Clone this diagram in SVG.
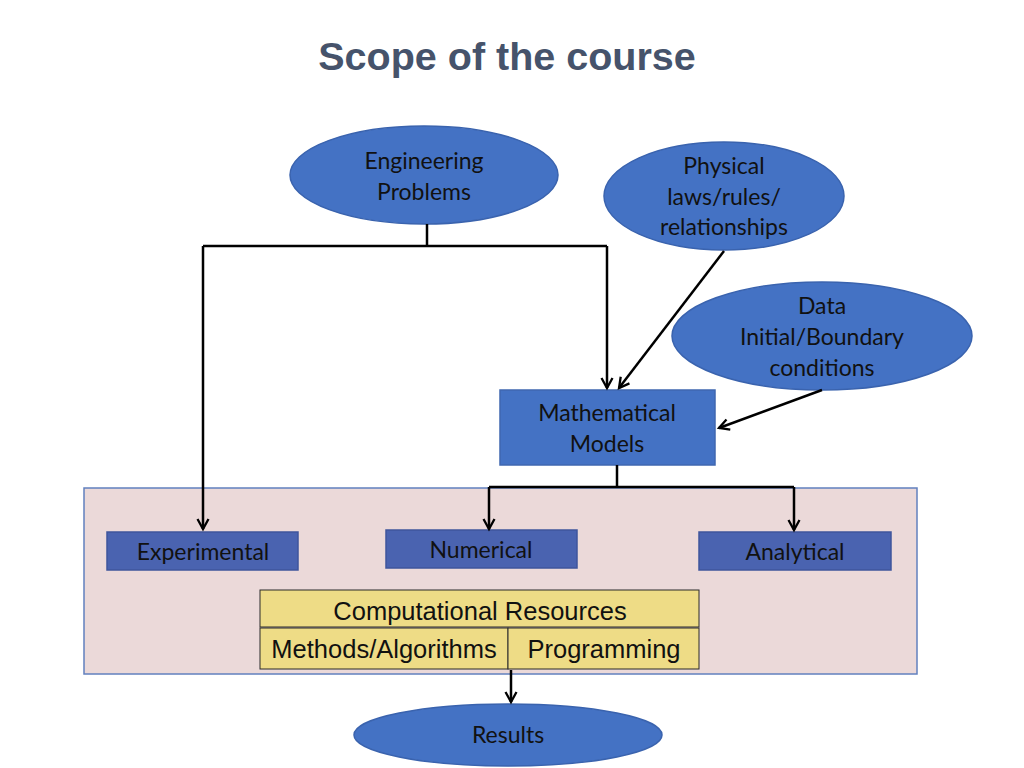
<svg xmlns="http://www.w3.org/2000/svg" width="1024" height="768" viewBox="0 0 1024 768">
<style>
.ell{fill:#4472C4;stroke:#3A63AE;stroke-width:1.5}
.blk{fill:#4472C4;stroke:#3F67B0;stroke-width:1.5}
.dk{fill:#4A63B0;stroke:#3F559C;stroke-width:1.5}
.yl{fill:#EEDC86;stroke:#2b2b2b;stroke-width:1}
.t{font-family:Lato,"Open Sans","Noto Sans",sans-serif;font-size:23px;fill:#111;text-anchor:middle}
.a{font-family:"Liberation Sans",Arial,sans-serif;font-size:25.5px;fill:#111;text-anchor:middle}
.c{fill:none;stroke:#000;stroke-width:2.5}
</style>
<defs>
<marker id="ar" viewBox="0 0 12 12" refX="11" refY="6" markerWidth="12" markerHeight="12" orient="auto" markerUnits="userSpaceOnUse" overflow="visible">
<path d="M1,0.5 L11,6 L1,11.5" fill="none" stroke="#000" stroke-width="2.3"/>
</marker>
</defs>
<rect width="1024" height="768" fill="#fff"/>
<text x="507" y="70" font-family="'Liberation Sans',Arial,sans-serif" font-size="39.5" font-weight="bold" fill="#46536B" text-anchor="middle">Scope of the course</text>

<g id="container"><rect x="84" y="488" width="833" height="186" fill="#EBD9D9" stroke="#6280BE" stroke-width="1.5"/></g>

<g id="engineering"><ellipse class="ell" cx="424" cy="175" rx="134" ry="49"/><text class="t" x="424" y="169">Engineering</text><text class="t" x="424" y="200">Problems</text></g>
<g id="physical"><ellipse class="ell" cx="724" cy="196" rx="120" ry="54"/><text class="t" x="724" y="174">Physical</text><text class="t" x="724" y="205">laws/rules/</text><text class="t" x="724" y="235">relationships</text></g>
<g id="data"><ellipse class="ell" cx="822" cy="336" rx="150" ry="54"/><text class="t" x="822" y="314">Data</text><text class="t" x="822" y="345">Initial/Boundary</text><text class="t" x="822" y="376">conditions</text></g>
<g id="models"><rect class="blk" x="500" y="390" width="215" height="75"/><text class="t" x="607" y="421">Mathematical</text><text class="t" x="607" y="452">Models</text></g>
<g id="experimental"><rect class="dk" x="107" y="532" width="191" height="38"/><text class="t" x="203" y="560">Experimental</text></g>
<g id="numerical"><rect class="dk" x="386" y="530" width="191" height="38"/><text class="t" x="481" y="558">Numerical</text></g>
<g id="analytical"><rect class="dk" x="699" y="532" width="192" height="38"/><text class="t" x="795" y="560">Analytical</text></g>
<g id="resources"><rect class="yl" x="260" y="590" width="439" height="37"/><text class="a" x="480" y="620">Computational Resources</text>
<rect class="yl" x="260" y="628" width="248" height="41"/><text class="a" x="384" y="658">Methods/Algorithms</text>
<rect class="yl" x="508" y="628" width="191" height="41"/><text class="a" x="604" y="658">Programming</text></g>
<g id="results"><ellipse class="ell" cx="508" cy="735" rx="154" ry="31"/><text class="t" x="508" y="743">Results</text></g>

<g id="connectors">
<path class="c" d="M427,224 V246"/>
<path class="c" d="M203,246 H607"/>
<path class="c" d="M203,246 V529" marker-end="url(#ar)"/>
<path class="c" d="M607,246 V388" marker-end="url(#ar)"/>
<path class="c" d="M724,251 L619,388" marker-end="url(#ar)"/>
<path class="c" d="M822,390 L719,428" marker-end="url(#ar)"/>
<path class="c" d="M617,465 V487"/>
<path class="c" d="M489,487 H794"/>
<path class="c" d="M489,487 V529" marker-end="url(#ar)"/>
<path class="c" d="M794,487 V530" marker-end="url(#ar)"/>
<path class="c" d="M511,670 V702" marker-end="url(#ar)"/>
</g>
</svg>
